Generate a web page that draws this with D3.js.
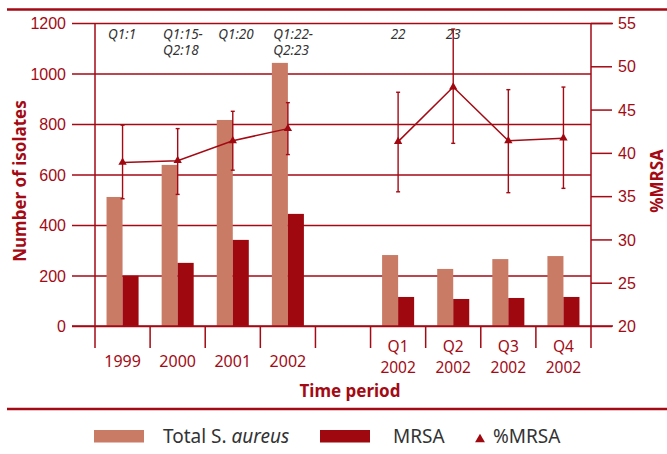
<!DOCTYPE html>
<html>
<head>
<meta charset="utf-8">
<script src="https://cdn.jsdelivr.net/npm/d3@7"></script>
<style>
  html, body { margin: 0; padding: 0; background: #fff; }
  svg { display: block; font-family: "Noto Sans", "Open Sans", sans-serif; }
</style>
</head>
<body>
<svg id="chart" width="667" height="454"></svg>
<script>
// Time periods: four years, a spacer, then the four quarters of 2002
const periods = ["1999", "2000", "2001", "2002", "", "Q1 2002", "Q2 2002", "Q3 2002", "Q4 2002"];
const totalSA = [511, 638, 816, 1042, null, 281, 226, 265, 277];
const mrsa = [199, 250, 341, 444, null, 115, 107, 111, 115];
const pctMRSA = [38.9, 39.1, 41.4, 42.8, null, 41.3, 47.6, 41.4, 41.7];
const ciLow = [34.7, 35.2, 38.0, 39.8, null, 35.5, 41.1, 35.4, 35.9];
const ciHigh = [43.2, 42.8, 44.8, 45.8, null, 47.0, 54.3, 47.3, 47.6];
const notes = [["Q1:1"], ["Q1:15-", "Q2:18"], ["Q1:20"], ["Q1:22-", "Q2:23"], [], ["22"], ["23"], [], []];
const leftTicks = [0, 200, 400, 600, 800, 1000, 1200];
const rightTicks = [20, 25, 30, 35, 40, 45, 50, 55];

const RED = "#a30a14";
const LIGHT = "#c97b65";
const DARK = "#a00810";
const TEXT = "#333333";

const svg = d3.select("#chart");
const L = 95, R = 591, T = 23, B = 326;

const x = d3.scaleBand().domain(periods).range([L, R]);
const inner = d3.scaleBand().domain(["total", "mrsa"]).range([0, x.bandwidth()]).paddingOuter(0.72);
const y = d3.scaleLinear().domain([0, 1200]).range([B, T]);
const y2 = d3.scaleLinear().domain([20, 55]).range([B, T]);

const rows = periods.map((p, i) => ({
  p, i, total: totalSA[i], mrsa: mrsa[i], pct: pctMRSA[i], lo: ciLow[i], hi: ciHigh[i], note: notes[i]
}));

// Frame rules above and below the plot
svg.append("line").attr("x1", 7).attr("x2", 667).attr("y1", 9.5).attr("y2", 9.5)
  .attr("stroke", RED).attr("stroke-width", 2.5);
svg.append("line").attr("x1", 7).attr("x2", 667).attr("y1", 409).attr("y2", 409)
  .attr("stroke", RED).attr("stroke-width", 2.5);

// Left axis: ticks reach out to the labels, gridlines run across the plot
const gLeft = svg.append("g").attr("transform", `translate(${L},0)`)
  .call(d3.axisLeft(y).tickValues(leftTicks).tickFormat(d3.format("d")).tickSize(0).tickPadding(29));
gLeft.select(".domain").remove();
gLeft.selectAll(".tick line").remove();
gLeft.selectAll(".tick").append("line")
  .attr("x1", -23).attr("x2", d => d === 1200 ? (613 - L) : (R - L))
  .attr("stroke", RED).attr("stroke-width", 1.5);
gLeft.selectAll(".tick text").attr("fill", RED).attr("font-size", 16).attr("dy", "0.35em");

// Right axis for %MRSA
const gRight = svg.append("g").attr("transform", `translate(${R},0)`)
  .call(d3.axisRight(y2).tickValues(rightTicks).tickSize(21).tickPadding(6));
gRight.select(".domain").remove();
gRight.selectAll(".tick line").attr("stroke", RED).attr("stroke-width", 1.5);
gRight.selectAll(".tick text").attr("fill", RED).attr("font-size", 16).attr("dy", "0.35em");

// Vertical axis lines, running down past the baseline
[L, R].forEach(xx => {
  svg.append("line").attr("x1", xx).attr("x2", xx).attr("y1", T).attr("y2", 348)
    .attr("stroke", RED).attr("stroke-width", 1.5);
});

// Category separators below the baseline
const bounds = periods.map(p => x(p)).slice(1);
svg.append("g").selectAll("line").data(bounds).join("line")
  .attr("x1", d => d).attr("x2", d => d).attr("y1", B).attr("y2", 348)
  .attr("stroke", RED).attr("stroke-width", 1.5);

// Bars
const bars = rows.filter(r => r.total != null);
svg.append("g").selectAll("rect").data(bars).join("rect")
  .attr("x", d => x(d.p) + inner("total")).attr("width", inner.bandwidth())
  .attr("y", d => y(d.total)).attr("height", d => B - y(d.total))
  .attr("fill", LIGHT);
svg.append("g").selectAll("rect").data(bars).join("rect")
  .attr("x", d => x(d.p) + inner("mrsa")).attr("width", inner.bandwidth())
  .attr("y", d => y(d.mrsa)).attr("height", d => B - y(d.mrsa))
  .attr("fill", DARK);

// Redraw baseline over bars
svg.append("line").attr("x1", L - 23).attr("x2", 613).attr("y1", B).attr("y2", B)
  .attr("stroke", RED).attr("stroke-width", 1.5);

// %MRSA error bars
const cx = d => x(d.p) + x.bandwidth() / 2;
const eb = svg.append("g").attr("stroke", RED).attr("stroke-width", 1.4);
bars.forEach(d => {
  eb.append("line").attr("x1", cx(d)).attr("x2", cx(d)).attr("y1", y2(d.lo)).attr("y2", y2(d.hi));
  [d.lo, d.hi].forEach(v => eb.append("line")
    .attr("x1", cx(d) - 2).attr("x2", cx(d) + 2).attr("y1", y2(v)).attr("y2", y2(v)));
});

// %MRSA line, broken at the spacer
const line = d3.line().defined(d => d.pct != null).x(cx).y(d => y2(d.pct));
svg.append("path").datum(rows).attr("d", line)
  .attr("fill", "none").attr("stroke", RED).attr("stroke-width", 1.5);
svg.append("g").selectAll("path").data(bars).join("path")
  .attr("d", d3.symbol(d3.symbolTriangle, 30))
  .attr("transform", d => `translate(${cx(d)},${y2(d.pct)})`)
  .attr("fill", DARK);

// Period notes along the top
const noteG = svg.append("g").attr("fill", TEXT).attr("font-size", 13.5).attr("font-style", "italic");
rows.forEach(d => {
  const quarter = d.p.startsWith("Q");
  const nx = quarter ? cx(d) : x(d.p) + 13;
  d.note.forEach((s, k) => noteG.append("text")
    .attr("text-anchor", quarter ? "middle" : "start")
    .attr("x", nx).attr("y", 38.5 + k * 16.5).text(s));
});

// Category labels (quarters stacked on two lines)
const labG = svg.append("g").attr("fill", RED).attr("text-anchor", "middle");
rows.filter(d => d.p !== "").forEach(d => {
  const parts = d.p.split(" ");
  parts.forEach((s, k) => labG.append("text")
    .attr("x", cx(d))
    .attr("font-size", parts.length === 1 ? 16 : 15.5)
    .attr("y", parts.length === 1 ? 367 : 351.5 + k * 21.2)
    .text(s));
});

// Axis titles
svg.append("text").attr("x", 350).attr("y", 397).attr("text-anchor", "middle")
  .attr("fill", RED).attr("font-size", 17).attr("font-weight", "bold").text("Time period");
svg.append("text").attr("transform", "translate(26,181) rotate(-90)").attr("text-anchor", "middle")
  .attr("fill", RED).attr("font-size", 17).attr("font-weight", "bold").text("Number of isolates");
svg.append("text").attr("transform", "translate(663,181) rotate(-90)").attr("text-anchor", "middle")
  .attr("fill", RED).attr("font-size", 17).attr("font-weight", "bold").text("%MRSA");

// Legend
const leg = svg.append("g").attr("font-size", 19).attr("fill", TEXT);
leg.append("rect").attr("x", 94).attr("y", 430).attr("width", 50).attr("height", 12.5).attr("fill", LIGHT);
const lt = leg.append("text").attr("x", 163).attr("y", 443);
lt.append("tspan").text("Total S. ");
lt.append("tspan").attr("font-style", "italic").text("aureus");
leg.append("rect").attr("x", 320).attr("y", 430).attr("width", 50).attr("height", 12.5).attr("fill", DARK);
leg.append("text").attr("x", 393).attr("y", 443).text("MRSA");
leg.append("path").attr("d", d3.symbol(d3.symbolTriangle, 42)).attr("transform", "translate(480,439.5)").attr("fill", DARK);
leg.append("text").attr("x", 493).attr("y", 443).text("%MRSA");
</script>
</body>
</html>
